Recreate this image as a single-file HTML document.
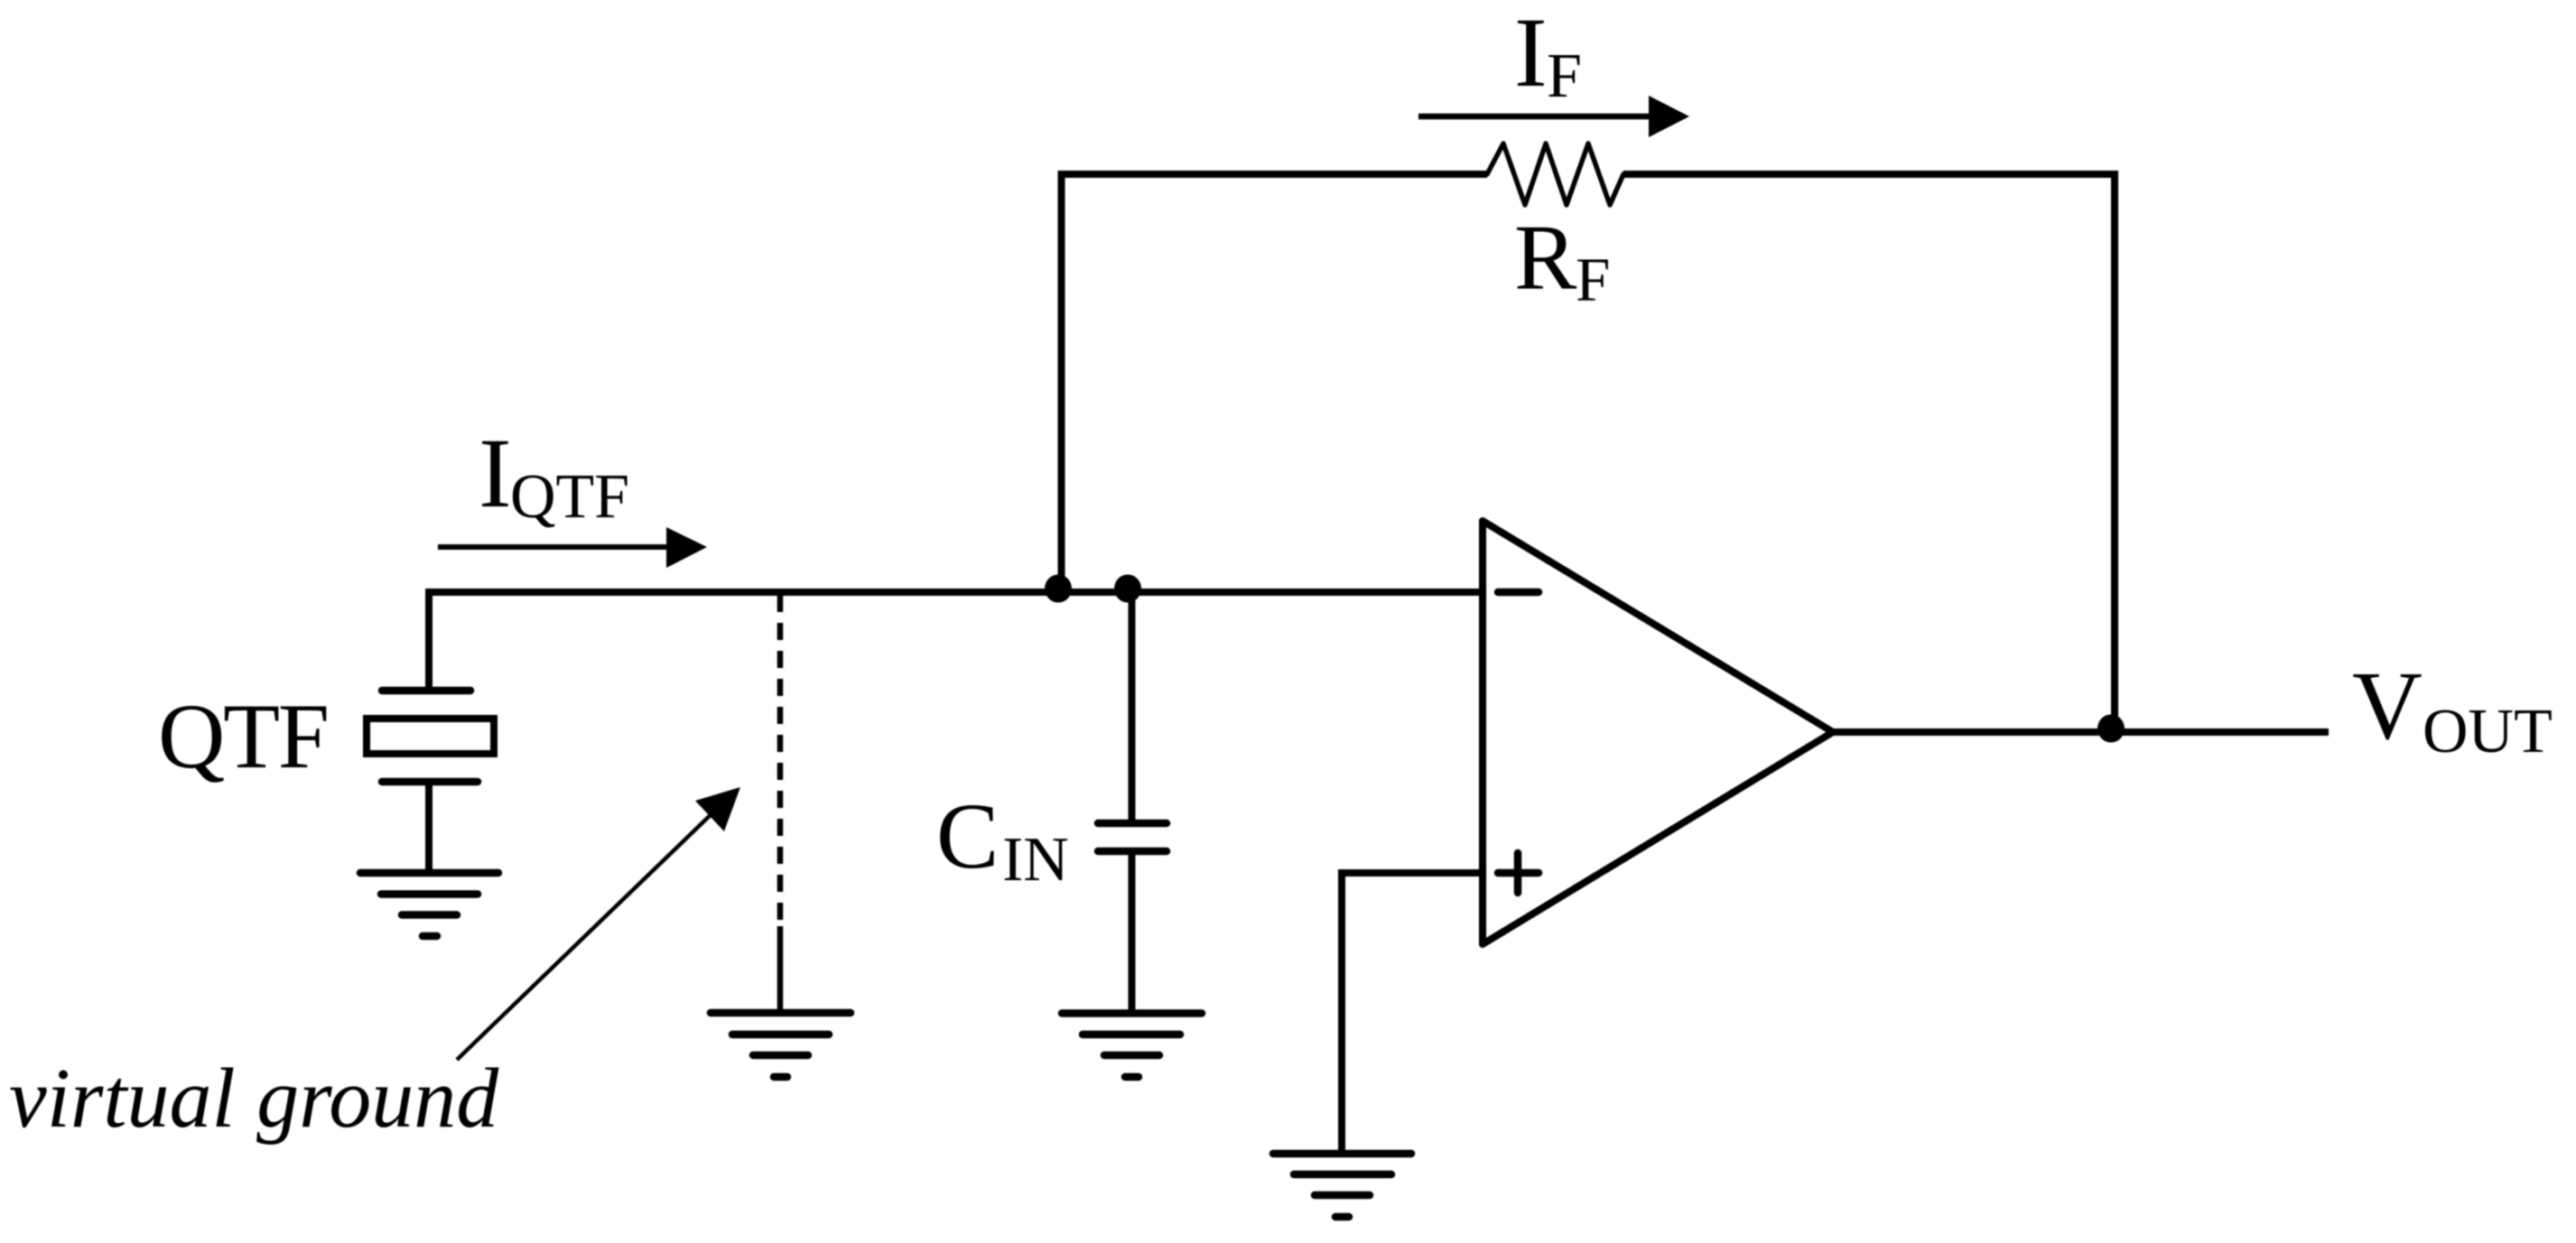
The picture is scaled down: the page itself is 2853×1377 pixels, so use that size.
<!DOCTYPE html>
<html lang="en">
<head>
<meta charset="utf-8">
<title>Transimpedance amplifier circuit</title>
<style>
html,body{margin:0;padding:0;background:#fff;width:2853px;height:1377px;overflow:hidden}
svg{display:block;filter:blur(0.7px)}
text{font-family:"Liberation Serif",serif;fill:#000}
.w{stroke:#000;stroke-width:8;fill:none;stroke-linejoin:miter}
.p{stroke:#000;stroke-width:8.5;fill:none;stroke-linecap:round}
</style>
</head>
<body>
<svg width="2853" height="1377" viewBox="0 0 2853 1377" xmlns="http://www.w3.org/2000/svg">
<rect width="2853" height="1377" fill="#fff"/>

<!-- feedback loop -->
<path d="M1647 193L1665 159L1689 227L1712 159L1735 227L1759 159L1783 227L1798 193" fill="none" stroke="#000" stroke-width="5.5" stroke-linejoin="round" stroke-linecap="round"/>
<path class="w" d="M1175.5 652V193H1647M1798 193H2342V807"/>

<!-- input wire -->
<path class="w" d="M475 765V656H1642"/>
<!-- QTF -->
<line class="p" x1="423" y1="765" x2="521" y2="765"/>
<rect x="406" y="796" width="141" height="39" fill="none" stroke="#000" stroke-width="8"/>
<line class="p" x1="423" y1="866" x2="529" y2="866"/>
<line class="w" x1="475" y1="866" x2="475" y2="967"/>
<!-- ground 1 -->
<line class="p" x1="399" y1="967" x2="552" y2="967"/>
<line class="p" x1="422" y1="990.5" x2="529" y2="990.5"/>
<line class="p" x1="445" y1="1013.5" x2="506" y2="1013.5"/>
<line class="p" x1="468" y1="1037" x2="484" y2="1037"/>

<!-- dashed virtual ground -->
<line x1="864" y1="659" x2="864" y2="1026" stroke="#000" stroke-width="6.5" stroke-dasharray="19 12"/>
<line class="w" x1="864" y1="1026" x2="864" y2="1122" style="stroke-width:6.5"/>
<line class="p" x1="787" y1="1122" x2="942" y2="1122"/>
<line class="p" x1="811" y1="1146" x2="918" y2="1146"/>
<line class="p" x1="834" y1="1169" x2="895" y2="1169"/>
<line class="p" x1="857" y1="1193" x2="872" y2="1193"/>

<!-- virtual ground pointer -->
<line x1="506" y1="1174" x2="795" y2="895" stroke="#000" stroke-width="4.5"/>
<polygon points="820,872 770,887 802,921" fill="#000"/>

<!-- CIN -->
<line class="w" x1="1253.5" y1="656" x2="1253.5" y2="912"/>
<line class="p" x1="1216" y1="912" x2="1292" y2="912"/>
<line class="p" x1="1216" y1="943" x2="1292" y2="943"/>
<line class="w" x1="1253.5" y1="943" x2="1253.5" y2="1122"/>
<line class="p" x1="1176" y1="1122.5" x2="1331" y2="1122.5"/>
<line class="p" x1="1199" y1="1146" x2="1307" y2="1146"/>
<line class="p" x1="1223" y1="1169" x2="1284" y2="1169"/>
<line class="p" x1="1246" y1="1193" x2="1261" y2="1193"/>

<!-- op-amp -->
<polygon points="1642,577 2030,811 1642,1046" fill="none" stroke="#000" stroke-width="8" stroke-linejoin="round"/>
<line class="p" x1="1659" y1="656" x2="1704" y2="656"/>
<line class="p" x1="1659" y1="967" x2="1704" y2="967"/>
<line class="p" x1="1681" y1="945" x2="1681" y2="989"/>

<!-- + input and ground -->
<path class="w" d="M1642 967H1486V1278"/>
<line class="p" x1="1410" y1="1278" x2="1563" y2="1278"/>
<line class="p" x1="1433" y1="1301" x2="1541" y2="1301"/>
<line class="p" x1="1456" y1="1324" x2="1517" y2="1324"/>
<line class="p" x1="1479" y1="1348" x2="1494" y2="1348"/>

<!-- output -->
<line class="w" x1="2030" y1="811" x2="2579" y2="811"/>

<!-- junction dots -->
<ellipse cx="1172" cy="652" rx="15" ry="15.5" fill="#000"/>
<ellipse cx="1249" cy="652" rx="15" ry="15.5" fill="#000"/>
<ellipse cx="2338" cy="807" rx="15" ry="15.5" fill="#000"/>

<!-- current arrows -->
<line x1="1571" y1="129" x2="1830" y2="129" stroke="#000" stroke-width="6.5"/>
<polygon points="1826,106 1871,129 1826,152" fill="#000"/>
<line x1="485" y1="606" x2="742" y2="606" stroke="#000" stroke-width="6"/>
<polygon points="738,584 783,606 738,629" fill="#000"/>

<!-- labels -->
<text x="1677" y="95" font-size="110">I</text>
<text x="1713" y="107" font-size="70">F</text>
<text x="1677" y="320" font-size="104">R</text>
<text x="1745" y="333" font-size="69">F</text>
<text x="530" y="561" font-size="110">I</text>
<text x="565" y="573" font-size="70" textLength="132">QTF</text>
<text x="175" y="850" font-size="103" textLength="190">QTF</text>
<text x="1037" y="961" font-size="104">C</text>
<text x="1110" y="975" font-size="70">IN</text>
<text x="2605" y="818" font-size="108">V</text>
<text x="2683" y="833" font-size="70">OUT</text>
<text x="10" y="1248" font-size="94" font-style="italic">virtual ground</text>
</svg>
</body>
</html>
